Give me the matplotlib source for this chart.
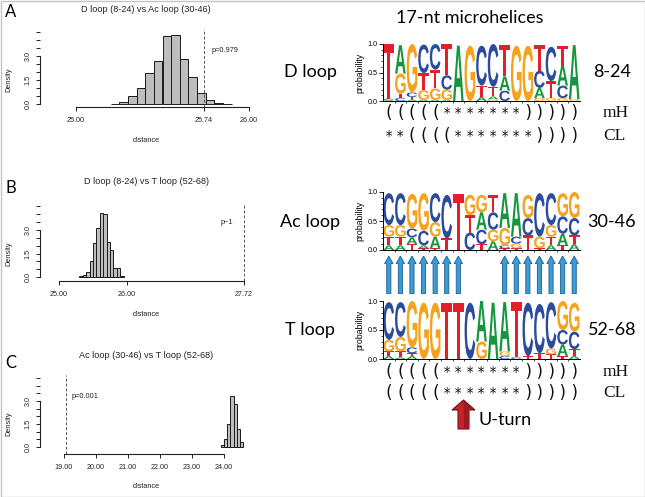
import matplotlib
matplotlib.use('Agg')
import matplotlib.pyplot as plt
from matplotlib.textpath import TextPath
from matplotlib.patches import PathPatch, FancyArrow, Rectangle, Polygon
from matplotlib.font_manager import FontProperties
from matplotlib.transforms import Affine2D, blended_transform_factory
from matplotlib.ticker import MultipleLocator, FixedLocator

# ---------------- data ----------------
# Histogram A: D loop vs Ac loop
hA_bins = [25.20, 25.25, 25.30, 25.35, 25.40, 25.45, 25.50, 25.55, 25.60, 25.65, 25.70, 25.75, 25.80, 25.85]
hA_dens = [0.02, 0.10, 0.48, 1.00, 1.90, 2.70, 4.20, 4.30, 2.80, 1.65, 0.70, 0.25, 0.06, 0.02]
hA_obs = 25.74
hA_p = "p=0.979"
hA_ticks = [25.00, 25.74, 26.00]

# Histogram B: D loop vs T loop
hB_bins = [25.30, 25.35, 25.40, 25.45, 25.50, 25.55, 25.60, 25.65, 25.70, 25.75, 25.80, 25.85, 25.90]
hB_dens = [0.06, 0.13, 0.30, 1.03, 2.20, 3.10, 4.10, 4.05, 2.25, 1.70, 0.60, 0.55, 0.08]
hB_obs = 27.72
hB_p = "p~1"
hB_ticks = [25.00, 26.00, 27.72]

# Histogram C: Ac loop vs T loop
hC_bins = [23.9, 24.0, 24.1, 24.2, 24.3, 24.4, 24.5]
hC_dens = [0.10, 0.50, 1.50, 3.30, 2.80, 1.20, 0.30]
hC_obs = 19.07
hC_p = "p=0.001"
hC_ticks = [19.00, 20.00, 21.00, 22.00, 23.00, 24.00]

# Sequence logos (probability of A, C, G, T at each of 17 positions)
dloop_A = [0.02, 0.50, 0.02, 0.02, 0.02, 0.02, 0.97, 0.00, 0.07, 0.05, 0.25, 0.00, 0.00, 0.18, 0.00, 0.35, 0.95]
dloop_C = [0.02, 0.05, 0.08, 0.50, 0.45, 0.25, 0.00, 0.00, 0.70, 0.75, 0.18, 0.00, 0.00, 0.30, 0.60, 0.22, 0.00]
dloop_G = [0.00, 0.35, 0.85, 0.17, 0.20, 0.18, 0.00, 0.97, 0.00, 0.03, 0.00, 0.97, 0.97, 0.05, 0.05, 0.05, 0.03]
dloop_T = [0.96, 0.08, 0.05, 0.30, 0.33, 0.55, 0.00, 0.00, 0.20, 0.17, 0.55, 0.00, 0.00, 0.45, 0.30, 0.35, 0.00]

acloop_A = [0.08, 0.08, 0.12, 0.05, 0.20, 0.00, 0.00, 0.00, 0.30, 0.15, 0.60, 0.75, 0.00, 0.00, 0.08, 0.20, 0.10]
acloop_C = [0.55, 0.55, 0.15, 0.25, 0.50, 0.75, 0.00, 0.30, 0.25, 0.30, 0.05, 0.12, 0.30, 0.75, 0.55, 0.30, 0.30]
acloop_G = [0.20, 0.20, 0.60, 0.65, 0.25, 0.00, 0.00, 0.35, 0.30, 0.20, 0.30, 0.08, 0.40, 0.20, 0.20, 0.40, 0.45]
acloop_T = [0.15, 0.15, 0.10, 0.03, 0.03, 0.20, 0.97, 0.30, 0.10, 0.30, 0.03, 0.03, 0.25, 0.03, 0.15, 0.08, 0.15]

tloop_A = [0.05, 0.03, 0.05, 0.00, 0.00, 0.00, 0.00, 0.00, 0.70, 0.97, 0.85, 0.00, 0.00, 0.00, 0.00, 0.20, 0.05]
tloop_C = [0.65, 0.60, 0.10, 0.00, 0.00, 0.00, 0.00, 0.97, 0.00, 0.00, 0.05, 0.03, 0.92, 0.85, 0.80, 0.25, 0.30]
tloop_G = [0.20, 0.25, 0.80, 0.97, 0.97, 0.00, 0.00, 0.00, 0.30, 0.00, 0.08, 0.00, 0.00, 0.00, 0.10, 0.50, 0.50]
tloop_T = [0.08, 0.10, 0.05, 0.00, 0.00, 0.97, 0.97, 0.00, 0.00, 0.00, 0.00, 0.95, 0.05, 0.10, 0.08, 0.05, 0.12]

dloop_mH = "(((((*******)))))"
dloop_CL = "**((((*******))))"
tloop_mH = "(((((*******)))))"
tloop_CL = "(((((*******)))))"
arrow_cols = [1, 2, 3, 4, 5, 6, 7, 11, 12, 13, 14, 15, 16, 17]

# ---------------- figure ----------------
W, H = 645, 497
fig = plt.figure(figsize=(W / 100, H / 100), dpi=100)

def box(x0, y0, x1, y1):
    return [x0 / W, 1 - y1 / H, (x1 - x0) / W, (y1 - y0) / H]

def lim(p0, p1, va, pa, vb, pb):
    s = (pb - pa) / (vb - va)
    return (va + (p0 - pa) / s, va + (p1 - pa) / s)

RF = 'Liberation Sans'
CAL = 'Lato'

def hist_panel(bins, dens, obs, ptxt, ticks, xmap, ymap, pbox, title, title_y, letter, letter_y, ptxt_xy, xlabel_y):
    x0, y0, x1, y1 = pbox
    ax = fig.add_axes(box(x0, y0, x1, y1))
    ax.set_xlim(*lim(x0, x1, *xmap))
    ax.set_ylim(*lim(y1, y0, *ymap))
    ax.bar(bins, dens, width=0.05 if bins[1] - bins[0] < 0.07 else 0.1, align='edge',
           color='#BEBEBE', edgecolor='#1a1a1a', linewidth=0.7)
    ax.axvline(obs, color='#555555', linestyle=(0, (3, 2)), linewidth=0.7)
    for s in ('top', 'right'):
        ax.spines[s].set_visible(False)
    ax.patch.set_alpha(0)
    ax.spines['bottom'].set_bounds(ticks[0], ticks[-1])
    ax.spines['left'].set_bounds(0, 3.0)
    for s in ('bottom', 'left'):
        ax.spines[s].set_linewidth(0.8)
        ax.spines[s].set_color('#222222')
    ax.set_xticks(ticks)
    ax.set_xticklabels(['%.2f' % t for t in ticks], fontsize=5.2, family=RF, color='#222222')
    ax.set_yticks([0, 1.5, 3.0])
    ax.set_yticklabels(['0.0', '1.5', '3.0'], fontsize=5.2, family=RF, rotation=90, va='center', color='#222222')
    ax.yaxis.set_minor_locator(MultipleLocator(0.5))
    ax.tick_params(axis='both', which='both', length=3, width=0.7, color='#222222', pad=4)
    ax.tick_params(axis='y', which='major', pad=3)
    fig.text(146 / W, 1 - title_y / H, title, fontsize=6.6, family=RF, ha='center', va='center', color='#222222')
    fig.text(11 / W, 1 - letter_y / H, letter, fontsize=12, family=CAL, ha='center', va='center')
    fig.text(146 / W, 1 - xlabel_y / H, 'distance', fontsize=5.3, family=RF, ha='center', va='center', color='#222222')
    ycen = (ymap[1] + ymap[3]) / 2
    fig.text(9 / W, 1 - ycen / H, 'Density', fontsize=5.3, family=RF, ha='center', va='center', rotation=90, color='#222222')
    fig.text(ptxt_xy[0] / W, 1 - ptxt_xy[1] / H, ptxt, fontsize=5.3, family=RF, ha='left', va='center', color='#222222')
    return ax

hist_panel(hA_bins, hA_dens, hA_obs, hA_p, hA_ticks, (25.0, 76, 26.0, 249), (0, 104, 3.0, 55.7),
           (40, 29, 255, 107), 'D loop (8-24) vs Ac loop (30-46)', 9, 'A', 12, (212, 51), 141)
hist_panel(hB_bins, hB_dens, hB_obs, hB_p, hB_ticks, (25.0, 59, 26.0, 127), (0, 277, 3.0, 230),
           (40, 204, 250, 281), 'D loop (8-24) vs T loop (52-68)', 182, 'B', 188, (221, 222), 315)
hist_panel(hC_bins, hC_dens, hC_obs, hC_p, hC_ticks, (19.0, 64, 24.0, 224), (0, 447, 3.0, 401),
           (40, 375, 250, 454), 'Ac loop (30-46) vs T loop (52-68)', 355, 'C', 363, (72, 396), 487)

# ---------------- logos ----------------
COL = {'A': '#14963C', 'C': '#2B4C9E', 'G': '#F5A21C', 'T': '#E3202A'}
LFP = FontProperties(family='Liberation Sans', weight='bold')
_paths = {L: TextPath((0, 0), L, size=1, prop=LFP) for L in 'ACGT'}

def draw_letter(ax, L, x0, y0, w, h):
    tp = _paths[L]
    bb = tp.get_extents()
    t = Affine2D().translate(-bb.x0, -bb.y0).scale(w / bb.width, h / bb.height).translate(x0, y0)
    ax.add_patch(PathPatch(t.transform_path(tp), facecolor=COL[L], edgecolor='none'))

def logo(ytop, ybot, pA, pC, pG, pT, name, rng, name_y):
    ax = fig.add_axes(box(383, ytop, 580, ybot))
    ax.set_xlim(0.5, 17.5)
    ax.set_ylim(0, 1)
    for i in range(17):
        items = sorted([(pA[i], 'A'), (pC[i], 'C'), (pG[i], 'G'), (pT[i], 'T')])
        y = 0.0
        for p, L in items:
            if p > 0.005:
                draw_letter(ax, L, i + 1 - 0.46, y, 0.92, p)
            y += p
    for s in ('top', 'right'):
        ax.spines[s].set_visible(False)
    for s in ('bottom', 'left'):
        ax.spines[s].set_linewidth(0.7)
    ax.set_yticks([0, 0.5, 1.0])
    ax.set_yticklabels(['0.0', '0.5', '1.0'], fontsize=5.2, family=RF)
    ax.yaxis.set_minor_locator(MultipleLocator(0.1))
    ax.set_xticks([])
    ax.xaxis.set_minor_locator(FixedLocator([i + 0.5 for i in range(1, 17)]))
    ax.tick_params(axis='y', which='major', length=3, width=0.6, pad=1)
    ax.tick_params(axis='y', which='minor', length=1.5, width=0.5)
    ax.tick_params(axis='x', which='minor', length=1.5, width=0.5)
    ax.patch.set_alpha(0)
    fig.text(360 / W, 1 - (ytop + ybot) / 2 / H, 'probability', fontsize=6.3, family=RF,
             rotation=90, ha='center', va='center')
    fig.text(310 / W, 1 - name_y / H, name, fontsize=13, family=CAL, ha='center', va='center')
    fig.text(612 / W, 1 - name_y / H, rng, fontsize=13, family=CAL, ha='center', va='center')
    return ax

axD = logo(44, 101, dloop_A, dloop_C, dloop_G, dloop_T, 'D loop', '8-24', 72)
axAc = logo(192, 250, acloop_A, acloop_C, acloop_G, acloop_T, 'Ac loop', '30-46', 222)
axT = logo(301, 359, tloop_A, tloop_C, tloop_G, tloop_T, 'T loop', '52-68', 330)

fig.text(470 / W, 1 - 18 / H, '17-nt microhelices', fontsize=13, family=CAL, ha='center', va='center')

def struct_row(ax, s, ypx, tag):
    tr = blended_transform_factory(ax.transData, fig.transFigure)
    for i, ch in enumerate(s):
        ax.text(i + 1, 1 - ypx / H, ch, transform=tr, ha='center', va='center',
                fontsize=12 if ch != '*' else 10, family='DejaVu Sans Mono', fontweight='light',
                clip_on=False, color='#111111')
    fig.text(603 / W, 1 - ypx / H, tag, fontsize=12.5, family='Liberation Serif', ha='left', va='center',
             color='#111111')

struct_row(axD, dloop_mH, 113, 'mH')
struct_row(axD, dloop_CL, 136, 'CL')
struct_row(axT, tloop_mH, 372, 'mH')
struct_row(axT, tloop_CL, 393, 'CL')

# blue pairing arrows
axA = fig.add_axes(box(383, 256, 580, 294))
axA.set_xlim(0.5, 17.5)
axA.set_ylim(0, 1)
axA.axis('off')
for c in arrow_cols:
    axA.add_patch(FancyArrow(c, 0.0, 0, 1.0, width=0.36, head_width=0.72, head_length=0.2,
                             length_includes_head=True, facecolor='#3B9BD6', edgecolor='#1C5F8E', linewidth=0.6))

# overlay for U-turn arrow and frame
ov = fig.add_axes([0, 0, 1, 1])
ov.set_xlim(0, W)
ov.set_ylim(H, 0)
ov.axis('off')
ov.add_patch(Polygon([(458, 429), (458, 410), (452, 410), (463.5, 400), (475, 410), (469, 410), (469, 429)],
                     closed=True, facecolor='#C8232B', edgecolor='#6E1216', linewidth=0.8))
ov.add_patch(Polygon([(463.5, 401), (474, 410), (469, 410), (469, 429), (464, 429)],
                     closed=True, facecolor='#9E1A20', edgecolor='none'))
ov.text(479, 420, 'U-turn', fontsize=13, family=CAL, ha='left', va='center')
ov.add_patch(Rectangle((0.5, 0.5), W - 1, H - 1, fill=False, edgecolor='#C4C4C4', linewidth=1))

fig.savefig('out.png', dpi=100)
